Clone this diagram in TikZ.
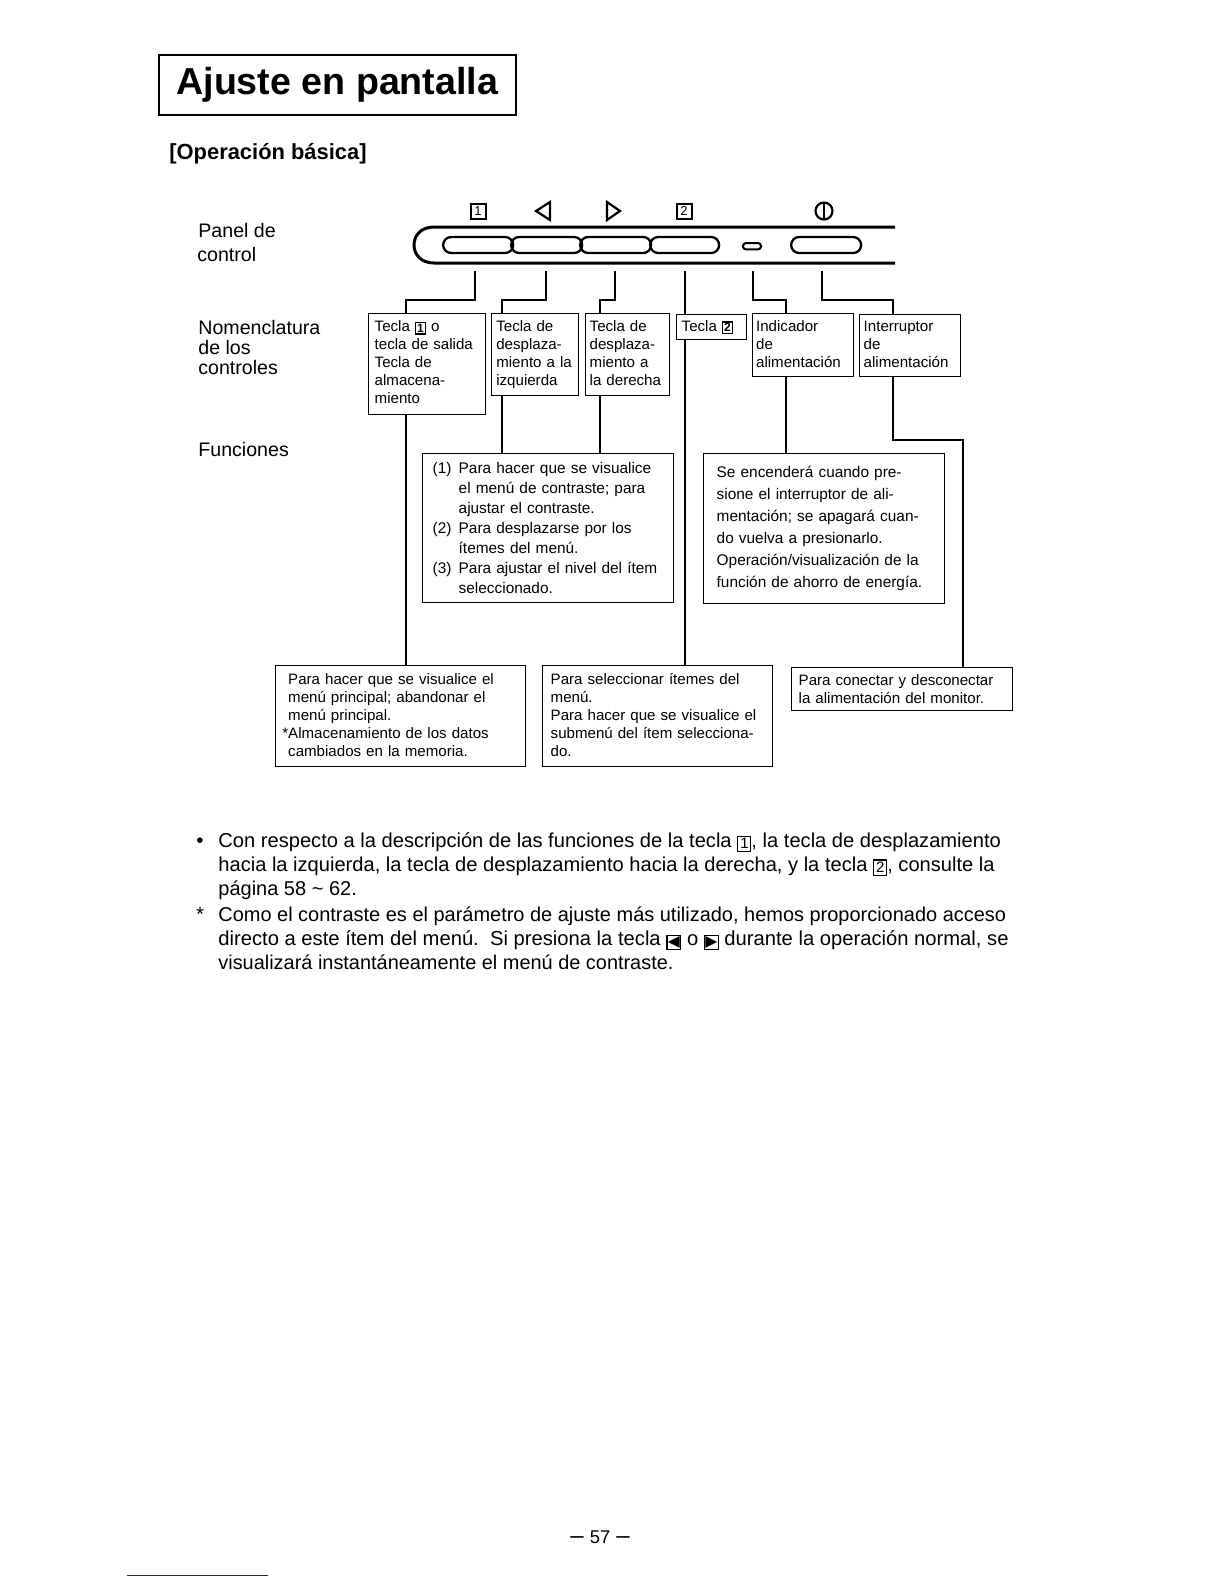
\documentclass[tikz,border=0pt]{standalone}
\usepackage{fontspec}
\usetikzlibrary{shapes.misc}
\setmainfont{Liberation Sans}
\newfontfamily\symf{DejaVu Sans}
\newcommand{\kb}[1]{{\setlength{\fboxsep}{0.5pt}\setlength{\fboxrule}{0.6pt}\raisebox{-0.4pt}{\fbox{\fontsize{6}{6}\selectfont\bfseries #1}}}}
\newcommand{\kbb}[1]{{\setlength{\fboxsep}{0.9pt}\setlength{\fboxrule}{0.55pt}\raisebox{-0.9pt}{\fbox{\fontsize{7.5}{7.5}\selectfont #1}}}}
\newcommand{\kt}[1]{{\setlength{\fboxsep}{0.2pt}\setlength{\fboxrule}{0.55pt}\raisebox{-0.9pt}{\fbox{\symf\fontsize{7.8}{7.8}\selectfont #1}}}}
\newcommand{\dn}[1]{\rule[-#1]{0pt}{#1}}
\tikzset{
  box/.style={draw=black,line width=0.7pt,anchor=north west,inner ysep=0pt,align=left,font=\fontsize{7.55}{9}\selectfont},
  wire/.style={draw=black,line width=0.7pt},
  lab/.style={anchor=base west,inner sep=0pt,font=\fontsize{9.8}{10}\selectfont},
  bodyl/.style={anchor=base west,inner sep=0pt},
  keybtn/.style={draw=black,line width=1.15pt,rounded rectangle,minimum height=8pt,inner sep=0pt,anchor=west},
  keytop/.style={draw=black,line width=1pt,minimum size=7.5pt,inner sep=0pt,font=\fontsize{6.5}{6.5}\selectfont},
  keyline/.style={draw=black,line width=1.1pt,line join=miter}
}
\begin{document}
\begin{tikzpicture}[x=0.5pt,y=-0.5pt]
\useasboundingbox (0,0) rectangle (1224,1584);
% title
\node[draw=black,line width=0.9pt,anchor=north west,minimum width=178.5pt,minimum height=30pt,inner sep=0pt] (title) at (158,54) {};
\node[anchor=base west,inner sep=0pt,font=\fontsize{18.8}{20}\selectfont\bfseries] (titlet) at (176,95) {Ajuste en pantalla};
\node[anchor=base west,inner sep=0pt,font=\fontsize{10.95}{12}\selectfont\bfseries] (sub) at (169,159) {[Operación básica]};
% left labels
\node[lab] (l1) at (198,237) {Panel de};
\node[lab] (l2) at (197,261) {control};
\node[lab] (l3) at (198,334) {Nomenclatura};
\node[lab] (l4) at (198,354) {de los};
\node[lab] (l5) at (198,374) {controles};
\node[lab] (l6) at (198,456) {Funciones};
% panel symbols
\node[keytop] (s1) at (478,211) {1};
\node[keytop] (s2) at (684,211) {2};
\draw[keyline] (550,202) -- (536,211) -- (550,220) -- cycle;
\draw[keyline] (607,202) -- (620,211) -- (607,220) -- cycle;
\draw[line width=1.1pt] (824,211) circle (8.5);
\draw[line width=1.1pt] (824,203) -- (824,219);
% panel
\draw[line width=1.5pt] (895,227) -- (434,227) .. controls (421,227) and (414,235.5) .. (414,245) .. controls (414,254.5) and (421,263) .. (434,263) -- (895,263);
\node[keybtn,minimum width=35pt] (p1) at (442,245) {};
\node[keybtn,minimum width=35.5pt] (p2) at (510,245) {};
\node[keybtn,minimum width=35.5pt] (p3) at (579,245) {};
\node[keybtn,minimum width=34.5pt] (p4) at (649,245) {};
\node[draw=black,line width=1pt,rounded corners=1.5pt,minimum width=9pt,minimum height=3.2pt,inner sep=0pt,anchor=north west] (led) at (742,242) {};
\node[keybtn,minimum width=35pt] (p5) at (790,245) {};
% control name boxes
\node[box,text width=52.5pt,inner xsep=3pt,minimum height=50.5pt] (b1) at (368,313) {Tecla \kb{1} o\\tecla de salida\\Tecla de\\almacena-\\miento\dn{2pt}};
\node[box,text width=38.9pt,inner xsep=2.3pt,minimum height=41pt] (b2) at (491,313) {Tecla de\\desplaza-\\\mbox{miento a la}\\izquierda\dn{2pt}};
\node[box,text width=38pt,inner xsep=2pt,minimum height=41pt] (b3) at (585,313) {Tecla de\\desplaza-\\miento a\\la derecha\dn{2pt}};
\node[box,text width=30pt,inner xsep=2.5pt,minimum height=12.5pt] (b4) at (676,314) {Tecla \kb{2}};
\node[box,text width=47.1pt,inner xsep=1.7pt,minimum height=31.5pt] (b5) at (752,313) {Indicador\\de\\alimentación\dn{1pt}};
\node[box,text width=46.5pt,inner xsep=2pt,minimum height=31pt] (b6) at (859,314) {Interruptor\\de\\alimentación\dn{1pt}};
% function boxes
\node[box,text width=115.5pt,inner xsep=5pt,minimum height=74.5pt,font=\fontsize{7.7}{10}\selectfont] (f1) at (422,453) {\makebox[13pt][l]{(1)}Para hacer que se visualice\\\hspace*{13pt}el menú de contraste; para\\\hspace*{13pt}ajustar el contraste.\\\makebox[13pt][l]{(2)}Para desplazarse por los\\\hspace*{13pt}ítemes del menú.\\\makebox[13pt][l]{(3)}Para ajustar el nivel del ítem\\\hspace*{13pt}seleccionado.};
\node[box,text width=107.5pt,inner xsep=6.5pt,minimum height=75pt,font=\fontsize{7.7}{11}\selectfont] (f2) at (703,453) {Se encenderá cuando pre-\\sione el interruptor de ali-\\mentación; se apagará cuan-\\do vuelva a presionarlo.\\Operación/visualización de la\\función de ahorro de energía.};
\node[box,text width=112pt,inner xsep=6.5pt,minimum height=50.5pt] (fa) at (274.5,665) {Para hacer que se visualice el\\menú principal; abandonar el\\menú principal.\\\leavevmode\llap{*}Almacenamiento de los datos\\cambiados en la memoria.\dn{1pt}};
\node[box,text width=107pt,inner xsep=4pt,minimum height=50.5pt] (fb) at (542,665) {Para seleccionar ítemes del\\menú.\\Para hacer que se visualice el\\submenú del ítem selecciona-\\do.\dn{1pt}};
\node[box,text width=103.5pt,inner xsep=3.5pt,minimum height=21.5pt] (fc) at (791,667) {Para conectar y desconectar\\la alimentación del monitor.};
% connector anchors
\coordinate (c1) at (475,271); \coordinate (e1) at (406,300);
\coordinate (c2) at (546,271); \coordinate (e2) at (502,300);
\coordinate (c3) at (615,271); \coordinate (e3) at (600,300);
\coordinate (c4) at (685,271);
\coordinate (c5) at (753,271); \coordinate (e5) at (786,300);
\coordinate (c6) at (822,271); \coordinate (e6) at (893,300);
\coordinate (e7) at (963,440);
% connectors
\draw[wire] (c1) |- (e1) -- (e1 |- b1.north);
\draw[wire] (c2) |- (e2) -- (e2 |- b2.north);
\draw[wire] (c3) |- (e3) -- (e3 |- b3.north);
\draw[wire] (c4) -- (c4 |- b4.north);
\draw[wire] (c5) |- (e5) -- (e5 |- b5.north);
\draw[wire] (c6) |- (e6) -- (e6 |- b6.north);
\draw[wire] (e1 |- b1.south) -- (e1 |- fa.north);
\draw[wire] (e2 |- b2.south) -- (e2 |- f1.north);
\draw[wire] (e3 |- b3.south) -- (e3 |- f1.north);
\draw[wire] (c4 |- b4.south) -- (c4 |- fb.north);
\draw[wire] (e5 |- b5.south) -- (e5 |- f2.north);
\draw[wire] (e6 |- b6.south) |- (e7) -- (e7 |- fc.north);
% body text
\node[anchor=base,inner sep=0pt,font=\fontsize{10.25}{12}\selectfont] (bu1) at (200,847) {•};
\node[bodyl,font=\fontsize{10.06}{12}\selectfont] (t1) at (218,847) {Con respecto a la descripción de las funciones de la tecla \kbb{1}, la tecla de desplazamiento};
\node[bodyl,font=\fontsize{10.05}{12}\selectfont] (t2) at (218,871) {hacia la izquierda, la tecla de desplazamiento hacia la derecha, y la tecla \kbb{2}, consulte la};
\node[bodyl,font=\fontsize{10}{12}\selectfont] (t3) at (218,895) {página 58 \char`\~{} 62.};
\node[anchor=base,inner sep=0pt,font=\fontsize{10.25}{12}\selectfont] (bu2) at (200,921) {*};
\node[bodyl,font=\fontsize{9.98}{12}\selectfont] (t4) at (218,921) {Como el contraste es el parámetro de ajuste más utilizado, hemos proporcionado acceso};
\node[bodyl,font=\fontsize{10.1}{12}\selectfont] (t5) at (218,945) {directo a este ítem del menú.\ \ Si presiona la tecla \kt{◀} o \kt{▶} durante la operación normal, se};
\node[bodyl,font=\fontsize{9.96}{12}\selectfont] (t6) at (218,969) {visualizará instantáneamente el menú de contraste.};
% footer
\node[anchor=base,inner sep=0pt,font=\fontsize{9.2}{10}\selectfont] (pg) at (600,1543) {{\fontsize{12}{12}\selectfont –}\,\,57\,\,{\fontsize{12}{12}\selectfont –}};
\draw[draw={rgb,255:red,30;green,30;blue,150},line width=0.5pt] (127,1575) -- (268,1575);
\end{tikzpicture}
\end{document}
